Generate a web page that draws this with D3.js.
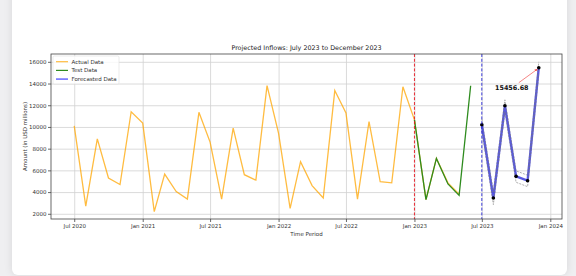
<!DOCTYPE html>
<html>
<head>
<meta charset="utf-8">
<script src="https://cdn.jsdelivr.net/npm/d3@7"></script>
<style>
    html, body { margin: 0; padding: 0; }
    body { width: 576px; height: 276px; background: #efeff1; overflow: hidden; position: relative; font-family: "DejaVu Sans", sans-serif; }
    .card { position: absolute; left: 12px; top: -12px; width: 555px; height: 287px; background: #fff; border-radius: 6px; box-shadow: 0 0 8px rgba(0,0,0,0.10); }
    svg { position: absolute; left: 0; top: 0; }
    .axis text { font-family: "DejaVu Sans", sans-serif; font-size: 5.5px; fill: #333; }
    .axis path, .axis line { stroke: #444; stroke-width: 0.8; }
    .grid line { stroke: #d2d2d2; stroke-width: 0.8; }
    .grid path { display: none; }
</style>
</head>
<body>
<div class="card"></div>
<svg id="chart"></svg>
<script>
// months and values
const actualMonths = ['2020-07','2020-08','2020-09','2020-10','2020-11','2020-12',
    '2021-01','2021-02','2021-03','2021-04','2021-05','2021-06','2021-07','2021-08','2021-09','2021-10','2021-11','2021-12',
    '2022-01','2022-02','2022-03','2022-04','2022-05','2022-06','2022-07','2022-08','2022-09','2022-10','2022-11','2022-12',
    '2023-01','2023-02','2023-03','2023-04','2023-05'];
const actualValues = [10100, 2700, 8900, 5300, 4700, 11400,
    10350, 2200, 5650, 4050, 3350, 11350, 8600, 3350, 9900, 5600, 5100, 13800,
    9400, 2500, 6800, 4600, 3450, 13350, 11300, 3350, 10500, 4950, 4850, 13700,
    10650, 3300, 7100, 4850, 3800];

const testMonths = ['2023-01','2023-02','2023-03','2023-04','2023-05','2023-06'];
const testValues = [10650, 3300, 7100, 4750, 3700, 13800];

const forecastMonths = ['2023-07','2023-08','2023-09','2023-10','2023-11','2023-12'];
const forecastValues = [10200, 3450, 11950, 5450, 5050, 15456.68];
const forecastUpper = [10750, 4000, 12500, 5950, 5550, 16000];
const forecastLower = [9650, 2850, 11400, 4900, 4500, 14900];

const yTicks = [2000, 4000, 6000, 8000, 10000, 12000, 14000, 16000];
const splitMonths = ['2023-01', '2023-07'];

const parseMonth = d3.timeParse('%Y-%m');

class ForecastChart {
    constructor(_config) {
        this.config = {
            parentElement: _config.parentElement,
            containerWidth: 576,
            containerHeight: 276,
            margin: { top: 54, bottom: 57, right: 14, left: 51 }
        };
        this.initVis();
    }

    initVis() {
        let vis = this;
        vis.width = vis.config.containerWidth - vis.config.margin.left - vis.config.margin.right;
        vis.height = vis.config.containerHeight - vis.config.margin.top - vis.config.margin.bottom;

        vis.svg = d3.select(vis.config.parentElement)
            .attr('width', vis.config.containerWidth)
            .attr('height', vis.config.containerHeight);

        vis.chart = vis.svg.append('g')
            .attr('transform', `translate(${vis.config.margin.left},${vis.config.margin.top})`);

        // matplotlib style 5% padding on both ends
        let first = parseMonth(actualMonths[0]);
        let last = parseMonth(forecastMonths[forecastMonths.length - 1]);
        let pad = (last - first) * 0.05;
        vis.xScale = d3.scaleTime()
            .domain([new Date(+first - pad), new Date(+last + pad)])
            .range([0, vis.width]);

        vis.yScale = d3.scaleLinear()
            .domain([1520, 16720])
            .range([vis.height, 0]);

        vis.xTicks = d3.timeMonth.every(6).range(vis.xScale.domain()[0], vis.xScale.domain()[1]);

        // grid
        vis.chart.append('g')
            .attr('class', 'grid')
            .attr('transform', `translate(0,${vis.height})`)
            .call(d3.axisBottom(vis.xScale).tickValues(vis.xTicks).tickSize(-vis.height).tickFormat(''));
        vis.chart.append('g')
            .attr('class', 'grid')
            .call(d3.axisLeft(vis.yScale).tickValues(yTicks).tickSize(-vis.width).tickFormat(''));

        vis.line = d3.line()
            .x(d => vis.xScale(d.date))
            .y(d => vis.yScale(d.value));

        let toPoints = (months, values) => months.map((m, i) => ({ date: parseMonth(m), value: values[i] }));

        vis.chart.append('path')
            .datum(toPoints(actualMonths, actualValues))
            .attr('fill', 'none')
            .attr('stroke', '#FFA500')
            .attr('stroke-opacity', 0.75)
            .attr('stroke-width', 1.3)
            .attr('d', vis.line);

        vis.chart.append('path')
            .datum(toPoints(testMonths, testValues))
            .attr('fill', 'none')
            .attr('stroke', '#2e8b1e')
            .attr('stroke-width', 1.3)
            .attr('d', vis.line);

        vis.chart.append('path')
            .datum(toPoints(forecastMonths, forecastValues))
            .attr('fill', 'none')
            .attr('stroke', '#2020d8')
            .attr('stroke-opacity', 0.75)
            .attr('stroke-width', 2.4)
            .attr('d', vis.line);

        [forecastUpper, forecastLower].forEach(b => {
            vis.chart.append('path')
                .datum(toPoints(forecastMonths, b))
                .attr('fill', 'none')
                .attr('stroke', '#777')
                .attr('stroke-width', 0.6)
                .attr('stroke-dasharray', '2,1.2')
                .attr('d', vis.line);
        });

        vis.chart.selectAll('.fc-dot')
            .data(toPoints(forecastMonths, forecastValues))
            .join('circle')
            .attr('class', 'fc-dot')
            .attr('r', 1.8)
            .attr('fill', '#000')
            .attr('cx', d => vis.xScale(d.date))
            .attr('cy', d => vis.yScale(d.value));

        // split lines
        let splitColors = ['#e8141e', '#2a2ad8'];
        splitMonths.forEach((m, i) => {
            vis.chart.append('line')
                .attr('x1', vis.xScale(parseMonth(m)))
                .attr('x2', vis.xScale(parseMonth(m)))
                .attr('y1', 0)
                .attr('y2', vis.height)
                .attr('stroke', splitColors[i])
                .attr('stroke-width', 0.9)
                .attr('stroke-dasharray', '3,1.8');
        });

        // annotation of the last forecast
        let lastX = vis.xScale(parseMonth(forecastMonths[5]));
        let lastY = vis.yScale(forecastValues[5]);
        vis.svg.append('defs').append('marker')
            .attr('id', 'arrow')
            .attr('viewBox', '0 0 10 10')
            .attr('refX', 9).attr('refY', 5)
            .attr('markerWidth', 4).attr('markerHeight', 4)
            .attr('orient', 'auto')
            .append('path')
            .attr('d', 'M0,0 L10,5 L0,10 z')
            .attr('fill', '#f05050');
        vis.chart.append('line')
            .attr('x1', lastX - 20).attr('y1', lastY + 15)
            .attr('x2', lastX - 1.5).attr('y2', lastY + 1.5)
            .attr('stroke', '#f05050')
            .attr('stroke-width', 0.7)
            .attr('marker-end', 'url(#arrow)');
        vis.chart.append('text')
            .attr('x', lastX - 27)
            .attr('y', lastY + 22)
            .attr('text-anchor', 'middle')
            .attr('font-size', '6.4px')
            .attr('font-weight', 'bold')
            .attr('fill', '#111')
            .text(d3.format('.2f')(forecastValues[5]));

        // axes
        vis.chart.append('g')
            .attr('class', 'axis x-axis')
            .attr('transform', `translate(0,${vis.height})`)
            .call(d3.axisBottom(vis.xScale).tickValues(vis.xTicks).tickFormat(d3.timeFormat('%b %Y')).tickSize(3).tickPadding(2.5))
            .call(g => g.select('.domain').remove());
        vis.chart.append('g')
            .attr('class', 'axis y-axis')
            .call(d3.axisLeft(vis.yScale).tickValues(yTicks).tickFormat(d3.format('d')).tickSize(3).tickPadding(1.5))
            .call(g => g.select('.domain').remove());

        // frame
        vis.chart.append('rect')
            .attr('width', vis.width)
            .attr('height', vis.height)
            .attr('fill', 'none')
            .attr('stroke', '#444')
            .attr('stroke-width', 0.8);

        // legend
        let legendItems = [
            { label: 'Actual Data', color: '#FFA500', opacity: 0.75 },
            { label: 'Test Data', color: '#2e8b1e', opacity: 1 },
            { label: 'Forecasted Data', color: '#0000ff', opacity: 0.5 }
        ];
        let legend = vis.chart.append('g').attr('transform', 'translate(2,2)');
        legend.append('rect')
            .attr('width', 66).attr('height', 28)
            .attr('rx', 1.5)
            .attr('fill', '#fff').attr('fill-opacity', 0.8)
            .attr('stroke', '#ddd').attr('stroke-width', 0.6);
        legendItems.forEach((d, i) => {
            let y = 5.7 + i * 8.7;
            legend.append('line')
                .attr('x1', 3).attr('x2', 15)
                .attr('y1', y).attr('y2', y)
                .attr('stroke', d.color)
                .attr('stroke-opacity', d.opacity)
                .attr('stroke-width', i === 2 ? 1.8 : 1.2);
            legend.append('text')
                .attr('x', 18.5).attr('y', y + 2)
                .attr('font-size', '5.5px')
                .attr('fill', '#333')
                .text(d.label);
        });

        // titles
        vis.svg.append('text')
            .attr('x', vis.config.margin.left + vis.width / 2)
            .attr('y', 49.5)
            .attr('text-anchor', 'middle')
            .attr('font-size', '6.4px')
            .attr('fill', '#222')
            .text('Projected Inflows: July 2023 to December 2023');
        vis.svg.append('text')
            .attr('x', vis.config.margin.left + vis.width / 2)
            .attr('y', 236)
            .attr('text-anchor', 'middle')
            .attr('font-size', '5.5px')
            .attr('fill', '#333')
            .text('Time Period');
        vis.svg.append('text')
            .attr('transform', `translate(27,${vis.config.margin.top + vis.height / 2}) rotate(-90)`)
            .attr('text-anchor', 'middle')
            .attr('font-size', '5.5px')
            .attr('fill', '#333')
            .text('Amount (in USD millions)');
    }
}

new ForecastChart({ parentElement: '#chart' });
</script>
</body>
</html>
